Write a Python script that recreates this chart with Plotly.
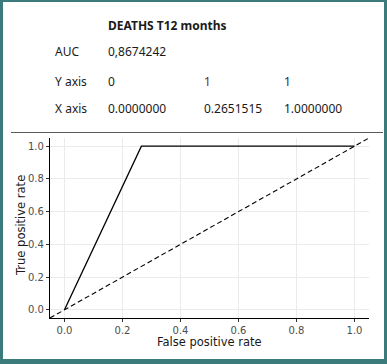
import plotly.graph_objects as go

# ---- data ----
fpr = [0.0, 0.2651515, 1.0]
tpr = [0, 1, 1]
ref_line = [-0.05, 1.05]
title_text = "DEATHS T12 months"
auc_text = "0,8674242"
y_axis_vals = ["0", "1", "1"]
x_axis_vals = ["0.0000000", "0.2651515", "1.0000000"]
tick_vals = [0.0, 0.2, 0.4, 0.6, 0.8, 1.0]
tick_text = ["0.0", "0.2", "0.4", "0.6", "0.8", "1.0"]
x_title = "False positive rate"
y_title = "True positive rate"

W, H = 387, 364
L, R, T, B = 50, 369, 138, 318  # plot area in pixels

def px(x):
    return (x - L) / (R - L)

def py(y):
    return (B - y) / (B - T)

fig = go.Figure()
fig.add_trace(go.Scatter(x=ref_line, y=ref_line, mode="lines",
                         line=dict(color="black", width=1.1, dash="5px,3px"),
                         hoverinfo="skip", showlegend=False))
fig.add_trace(go.Scatter(x=fpr, y=tpr, mode="lines",
                         line=dict(color="black", width=1.3),
                         showlegend=False))

shapes = [
    dict(type="rect", xref="paper", yref="paper", layer="below",
         x0=px(3), x1=px(384), y0=py(359), y1=py(2),
         fillcolor="white", line=dict(width=0)),
    dict(type="line", xref="paper", yref="paper",
         x0=px(11), x1=px(383), y0=py(132.5), y1=py(132.5),
         line=dict(color="#5a5a5a", width=1.2)),
]

txt_font = dict(family="Noto Sans, Open Sans, sans-serif", size=12, color="#1a1a1a")
ann = []
def add_text(x, y, s, color="#1a1a1a", bold=False):
    f = dict(txt_font)
    f["color"] = color
    ann.append(dict(xref="paper", yref="paper", x=px(x), y=py(y),
                    xanchor="left", yanchor="middle", showarrow=False,
                    text=f"<b>{s}</b>" if bold else s, font=f))

add_text(106, 25, title_text, bold=True)
add_text(53, 52, "AUC")
add_text(106, 52, auc_text)
add_text(53, 81, "Y axis")
add_text(53, 109, "X axis")
cols = [106, 202, 282]
ycolors = ["#1a1a1a", "#7a1c3c", "#2a1f6e"]
for c, v, col in zip(cols, y_axis_vals, ycolors):
    add_text(c, 81, v, color=col)
for c, v in zip(cols, x_axis_vals):
    add_text(c, 109, v)

title_font = dict(family="DejaVu Sans", size=11.5, color="#1a1a1a")
ann.append(dict(xref="paper", yref="paper", x=px(209), y=py(342),
                xanchor="center", yanchor="middle", showarrow=False,
                text=x_title, font=title_font, borderpad=0))
ann.append(dict(xref="paper", yref="paper", x=px(21), y=py(226),
                xanchor="center", yanchor="middle", showarrow=False,
                text=y_title, textangle=-90, font=title_font, borderpad=0))

axis_common = dict(
    showline=True, linecolor="black", linewidth=1.2,
    ticks="outside", ticklen=3, tickcolor="#333333", tickwidth=1,
    showgrid=True, gridcolor="#ebebeb", gridwidth=1,
    zeroline=False, tickvals=tick_vals, ticktext=tick_text,
    tickfont=dict(family="DejaVu Sans", size=10, color="#4d4d4d"),
    mirror=False,
)

fig.update_layout(
    width=W, height=H,
    margin=dict(l=L, r=W - R, t=T, b=H - B),
    paper_bgcolor="#3b7b7b", plot_bgcolor="white",
    shapes=shapes, annotations=ann,
    xaxis=dict(range=[-0.05, 1.05], **axis_common),
    yaxis=dict(range=[-0.05, 1.05], **axis_common),
)

fig.write_html("out.html")
